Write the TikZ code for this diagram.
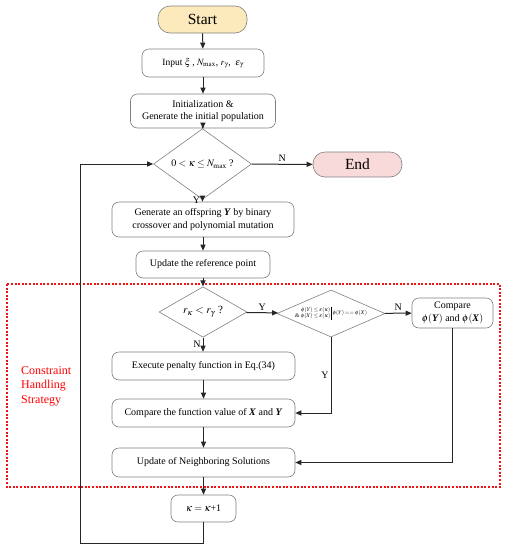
\documentclass[tikz,border=0pt]{standalone}
\usepackage{mathptmx}
\usepackage[no-math]{fontspec}
\setmainfont{Liberation Serif}
\usetikzlibrary{arrows.meta,shapes.geometric}
\definecolor{startfill}{RGB}{252,233,188}
\definecolor{endfill}{RGB}{249,218,218}
\definecolor{bordergray}{RGB}{128,128,128}
\definecolor{redline}{RGB}{240,20,20}
\tikzset{
  box/.style={draw=bordergray, rounded corners=7pt, line width=0.6pt, align=center,
    font=\fontsize{10}{12.5}\selectfont, inner sep=0pt},
  pill/.style={draw=bordergray, rounded corners=12pt, line width=0.6pt,
    font=\fontsize{15.5}{18}\selectfont, inner sep=0pt},
  dia/.style={draw=bordergray, diamond, line width=0.6pt, inner sep=0pt,
    font=\fontsize{10}{12}\selectfont},
  arr/.style={-{Triangle[length=6pt,width=5pt]}, line width=1pt, draw=black!85},
  lbl/.style={font=\fontsize{10}{12}\selectfont, inner sep=2pt}
}
\newcommand{\bi}[1]{\textbf{\textit{#1}}}
\begin{document}
\begin{tikzpicture}[x=1pt,y=-1pt]
\useasboundingbox (0,0) rectangle (508,550);
% red dashed region
\draw[redline, line width=1.1pt, dash pattern=on 2pt off 1.6pt] (7,284) rectangle (500,487);
\node[red, anchor=west, align=left, font=\fontsize{12}{14.5}\selectfont, inner sep=0pt] (chs) at (21,386) {Constraint\\Handling\\Strategy};

\node[pill, fill=startfill, minimum width=89pt, minimum height=27pt] (start) at (202.5,19.5) {Start};
\node[box, minimum width=122pt, minimum height=28pt, font=\fontsize{9.5}{12}\selectfont] (input) at (203,63) {Input $\xi$\,, $N_{\max}$, $r_{\gamma}$,\ \ $\varepsilon_{\gamma}$};
\node[box, minimum width=145pt, minimum height=34pt] (init) at (203,111) {Initialization \&\\Generate the initial population};
\node[dia, minimum width=98pt, minimum height=43pt] (d1) at (202.5,164) {$0<\kappa\le N_{\max}$ ?};
\node[pill, fill=endfill, minimum width=89pt, minimum height=25pt] (end) at (357.5,164.5) {End};
\node[box, minimum width=182pt, minimum height=35pt] (gen) at (203,219.5) {Generate an offspring \bi{Y} by binary\\crossover and polynomial mutation};
\node[box, minimum width=134pt, minimum height=27pt] (upd) at (203,264.5) {Update the reference point};
\node[dia, minimum width=88pt, minimum height=41pt, font=\fontsize{11}{13}\selectfont] (d2) at (203,312) {$r_\kappa < r_\gamma$ ?};
\node[dia, minimum width=108pt, minimum height=47pt,
  label={[font=\fontsize{5.6}{6.5}\selectfont, inner sep=0pt]center:{\hbox{\begin{tabular}{@{}r@{}}$\phi(Y)\le\varepsilon(\kappa)$\\[-0.5pt]\&\ $\phi(X)\le\varepsilon(\kappa)$\end{tabular}\,\vrule\,$\phi(Y)==\phi(X)$}}}] (d3) at (331,313.5) {};
\node[box, minimum width=81pt, minimum height=30pt] (cmp) at (452.5,313) {Compare\\$\phi($\bi{Y}$)$ and $\phi($\bi{X}$)$};
\node[box, minimum width=183pt, minimum height=28pt] (pen) at (203.5,366) {Execute penalty function in Eq.(34)};
\node[box, minimum width=183pt, minimum height=28pt] (cfv) at (203.5,413) {Compare the function value of \bi{X} and \bi{Y}};
\node[box, minimum width=183pt, minimum height=29pt] (un) at (203.5,462.5) {Update of Neighboring Solutions};
\node[box, minimum width=65pt, minimum height=27pt] (kap) at (203.5,508.5) {$\kappa = \kappa$+1};
\coordinate (lb) at (80,543);

\draw[arr] (start) -- (input);
\draw[arr] (input) -- (init);
\draw[arr] (init) -- (d1);
\draw[arr] (d1) -- node[lbl, above] {N} (end);
\draw[arr] (d1.south) -- node[lbl, left, pos=0.4] {Y} (d1.south |- gen.north);
\draw[arr] (gen.south) -- (gen.south |- upd.north);
\draw[arr] (upd) -- (d2);
\draw[arr] (d2) -- node[lbl, above] {Y} (d3);
\draw[arr] (d3) -- node[lbl, above] {N} (cmp);
\draw[arr] (d2.south) -- node[lbl, left] {N} (d2.south |- pen.north);
\draw[arr] (pen.south) -- (pen.south |- cfv.north);
\draw[arr] (d3.south) |- node[lbl, left, pos=0.25] {Y} (cfv.east);
\draw[arr] (cmp.south) |- (un.east);
\draw[arr] (cfv.south) -- (cfv.south |- un.north);
\draw[arr] (un.south) -- (un.south |- kap.north);
\draw[arr] (kap.south) |- (lb) |- (d1.west);
\end{tikzpicture}
\end{document}
